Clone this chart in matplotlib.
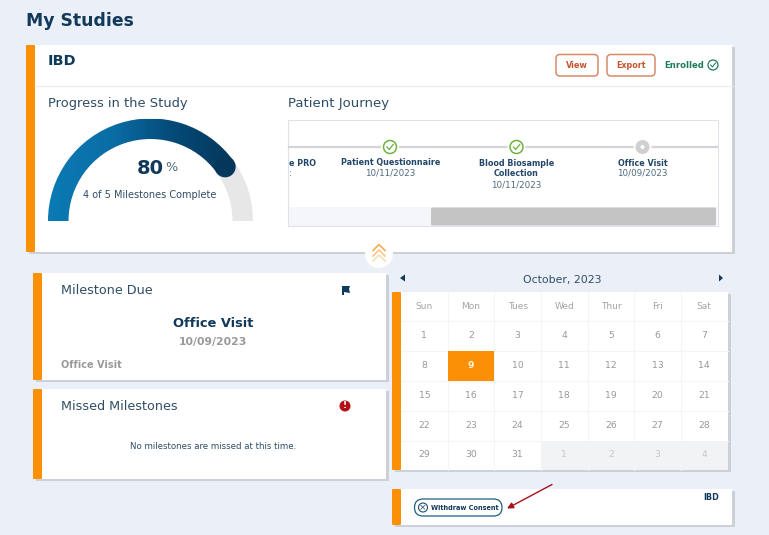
import numpy as np
import matplotlib
matplotlib.use("Agg")
import matplotlib.pyplot as plt
from matplotlib.patches import Rectangle, FancyBboxPatch, Circle, Wedge, Polygon, FancyArrowPatch
from matplotlib.colors import LinearSegmentedColormap

progress_pct = 80
milestones_done = 4
milestones_total = 5
weekdays = ["Sun", "Mon", "Tues", "Wed", "Thur", "Fri", "Sat"]
calendar_days = [1, 2, 3, 4, 5, 6, 7, 8, 9, 10, 11, 12, 13, 14, 15, 16, 17, 18, 19, 20, 21,
                 22, 23, 24, 25, 26, 27, 28, 29, 30, 31, 1, 2, 3, 4]
selected_day = 9
journey_names = ["Patient Questionnaire", "Blood Biosample\nCollection", "Office Visit"]
journey_dates = ["10/11/2023", "10/11/2023", "10/09/2023"]

BG = "#ebeff7"; NAVY = "#10395a"; TEXT = "#2f4d66"; ORANGE = "#fb8f06"
SHADOW = "#ccd0d8"; GREY = "#9a9a9a"; GREEN = "#6cb33f"; RUST = "#c5562f"
plt.rcParams["font.family"] = "DejaVu Sans"

fig = plt.figure(figsize=(7.69, 5.35), dpi=100, facecolor=BG)
ax = fig.add_axes([0, 0, 1, 1])
ax.set_xlim(0, 769); ax.set_ylim(535, 0); ax.axis("off"); ax.set_aspect("auto")

def t(x, y, s, size, color=TEXT, weight="normal", ha="left", **kw):
    ax.text(x, y, s, fontsize=size, color=color, fontweight=weight, ha=ha, va="center", **kw)

def card(x0, y0, x1, y1, bar=9):
    ax.add_patch(Rectangle((x0 + 3, y0 + 2), x1 - x0, y1 - y0, fc=SHADOW, ec="none", zorder=1))
    ax.add_patch(Rectangle((x0, y0), x1 - x0, y1 - y0, fc="white", ec="none", zorder=1.1))
    ax.add_patch(FancyBboxPatch((x0, y0), bar, y1 - y0, boxstyle="round,pad=0,rounding_size=1",
                                fc=ORANGE, ec="none", zorder=1.2))

def check(x, y, r, col, lw=1.1):
    ax.add_patch(Circle((x, y), r, fc="white", ec=col, lw=lw, zorder=4))
    s = r / 6.5
    ax.plot([x - 3 * s, x - 0.8 * s, x + 3.2 * s], [y, y + 2.5 * s, y - 2.5 * s], color=col, lw=lw * 0.85, zorder=5)

t(26.5, 20.5, "My Studies", 12.4, NAVY, "bold")

# main card
card(26, 45, 732, 252)
ax.plot([35, 732], [85.5, 85.5], color="#eceff3", lw=1, zorder=2)
t(48, 61, "IBD", 10.4, NAVY, "bold")
t(48, 103, "Progress in the Study", 9.4)
t(288, 103, "Patient Journey", 9.5)

# buttons
for x0, x1, lab, fs in [(556, 598, "View", 5.9), (607, 655, "Export", 5.8)]:
    ax.add_patch(FancyBboxPatch((x0, 54.5), x1 - x0, 21.5, boxstyle="round,pad=0,rounding_size=4",
                                fc="white", ec="#d98a6c", lw=1.1, zorder=3))
    t((x0 + x1) / 2, 65, lab, fs, RUST, "bold", ha="center", zorder=4)
t(664.5, 65.5, "Enrolled", 6.1, "#1f7a5c", "bold")
check(713, 65, 5, "#1f7a5c", 0.9)

# gauge
cx, cy, R, r = 150.5, 221, 102.5, 82
# the y axis is inverted, so the upper half is the 180..360 degree range
ax.add_patch(Wedge((cx, cy), R, 180, 360, width=R - r, fc="#e7e7e7", ec="none", zorder=2))
end = 180 * progress_pct / 100
cmap = LinearSegmentedColormap.from_list("g", ["#0b7ab5", "#0a6ea6", "#054a78", "#04375a"])
img = ax.imshow(np.linspace(0, 1, 256).reshape(1, -1), extent=(48, 235, 221, 119), cmap=cmap,
                aspect="auto", zorder=3)
w = Wedge((cx, cy), R, 180, 180 + end, width=R - r, fc="none", ec="none")
ax.add_patch(w); img.set_clip_path(w)
ax.set_xlim(0, 769); ax.set_ylim(535, 0)
a = np.deg2rad(180 - end)
ax.add_patch(Circle((cx + (R + r) / 2 * np.cos(a), cy - (R + r) / 2 * np.sin(a)), (R - r) / 2 + 0.3,
                    fc="#04375a", ec="none", zorder=4))
t(136.5, 168.5, f"{progress_pct}", 14, NAVY, "bold")
t(165, 167.5, "%", 9.2, "#4f6a80")
t(150, 195.5, f"{milestones_done} of {milestones_total} Milestones Complete", 7.0, ha="center")

# journey box
ax.add_patch(Rectangle((288, 119.5), 430, 106, fc="white", ec="#dfe2e8", lw=0.8, zorder=2))
ax.add_patch(Rectangle((289, 207), 428, 18.5, fc="#f4f6fb", ec="none", zorder=2.1))
ax.add_patch(FancyBboxPatch((431, 207.5), 285, 18, boxstyle="round,pad=0,rounding_size=1.5",
                            fc="#c4c4c4", ec="none", zorder=2.2))
ax.plot([289, 717], [146.5, 146.5], color="#d3d5da", lw=1.6, zorder=2.3)
xs = [390, 516.5, 642.5]
for i, (x, nm, dt) in enumerate(zip(xs, journey_names, journey_dates)):
    ax.add_patch(Circle((x, 147), 9, fc="white", ec="none", zorder=3))
    if i < 2:
        check(x, 147, 6.5, GREEN)
    else:
        ax.add_patch(Circle((x, 147), 7, fc="#d0d0d0", ec="none", zorder=4))
        ax.add_patch(Circle((x, 147), 2, fc="white", ec="none", zorder=5))
    lines = nm.split("\n")
    for j, ln in enumerate(lines):
        t(x + (0.5 if i == 0 else 0), 163 + 11 * j, ln, 5.8, "#23476a", "bold", ha="center", zorder=4)
    t(x, 173.5 + 11 * (len(lines) - 1), dt, 6.3, "#4f6a80", ha="center", zorder=4)
t(316, 163, "e PRO", 5.8, "#23476a", "bold", ha="right", zorder=4)
t(289, 173, ":", 6.3, "#4f6a80", zorder=4)

# collapse button
ax.add_patch(Circle((379, 254), 14, fc="white", ec="none", zorder=6))
for dy, col in [(0, "#f3b04e"), (5.5, "#f6c98a"), (10.5, "#fadfb8")]:
    ax.plot([373, 379, 385], [252.5 + dy - 2, 246.5 + dy - 2, 252.5 + dy - 2], color=col, lw=1.2, zorder=7)

# milestone due
card(33, 273, 386, 380)
t(61, 290.5, "Milestone Due", 9.2)
ax.add_patch(Polygon([(342, 286), (350, 286), (349, 289), (350, 293), (344, 292), (344, 295), (342, 295)],
                     fc=NAVY, ec="none", zorder=3))
t(213.5, 323.5, "Office Visit", 9.4, NAVY, "bold", ha="center")
t(213.5, 341.5, "10/09/2023", 7.8, GREY, "bold", ha="center")
t(61, 365.5, "Office Visit", 7.0, GREY, "bold")

# missed
card(33, 389, 386, 479)
t(61, 406.5, "Missed Milestones", 9.2)
ax.add_patch(Circle((345, 406), 5.5, fc="#b30f14", ec="none", zorder=3))
t(345, 405.8, "!", 6.5, "white", "bold", ha="center", zorder=4)
t(213, 446.5, "No milestones are missed at this time.", 6.2, ha="center")

# calendar
t(562.5, 279.5, "October, 2023", 7.8, ha="center")
ax.add_patch(Polygon([(400, 278), (405, 274.5), (405, 281.5)], fc=NAVY, ec="none"))
ax.add_patch(Polygon([(723, 278), (719, 274.5), (719, 281.5)], fc=NAVY, ec="none"))
card(392, 292, 727.5, 470)
xe = np.linspace(401, 727.5, 8)
ye = [292, 321, 351, 381, 411, 440.5, 470]
for c, wd in enumerate(weekdays):
    t((xe[c] + xe[c + 1]) / 2, 306.5, wd, 6.5, "#a3a3a3", "normal", ha="center", zorder=4)
for k, d in enumerate(calendar_days):
    row, col = divmod(k, 7)
    x0, x1, y0, y1 = xe[col], xe[col + 1], ye[row + 1], ye[row + 2]
    other = k >= 31
    sel = (d == selected_day and not other)
    if sel or other:
        ax.add_patch(Rectangle((x0, y0), x1 - x0, y1 - y0, fc=ORANGE if sel else "#f2f3f5", ec="none", zorder=3))
    t((x0 + x1) / 2, (y0 + y1) / 2 - 0.5, str(d), 6.7, "#fff3dc" if sel else ("#c4c6c8" if other else "#999999"),
      "bold" if sel else "normal", ha="center", zorder=4)
for x in xe[1:-1]:
    ax.plot([x, x], [292, 470], color="#f4f5f6", lw=0.8, zorder=2.5)
for y in ye[1:-1]:
    ax.plot([401, 727.5], [y, y], color="#f4f5f6", lw=0.8, zorder=2.5)

# withdraw
card(392, 489, 732, 525)
t(711, 497.5, "IBD", 5.8, NAVY, "bold", ha="center", zorder=4)
ax.add_patch(FancyBboxPatch((414.5, 499), 87.5, 17, boxstyle="round,pad=0,rounding_size=8.5",
                            fc="white", ec="#1f5f80", lw=0.9, zorder=3))
ax.add_patch(Circle((423, 507.5), 4.5, fc="white", ec="#1f4f70", lw=0.8, zorder=4))
t(423, 507.3, "×", 6.5, "#1f4f70", ha="center", zorder=5)
t(431, 507.5, "Withdraw Consent", 4.7, NAVY, "bold", zorder=4)
ax.add_patch(FancyArrowPatch((552, 484.5), (507, 508.5), arrowstyle="-|>", mutation_scale=9,
                             color="#a5121a", lw=1, shrinkA=0, shrinkB=0, zorder=6))
fig.savefig("out.png", dpi=100, facecolor=BG)
